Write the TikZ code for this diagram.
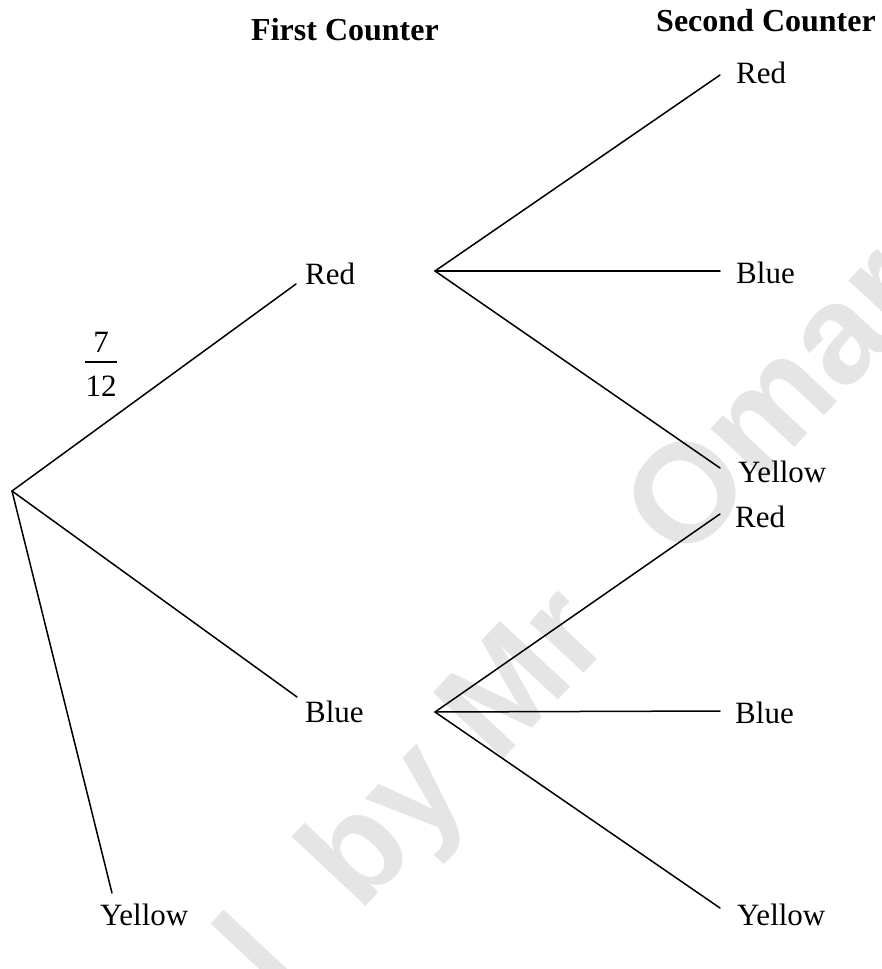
\documentclass[tikz,border=0pt]{standalone}
\usepackage{fontspec}
\setmainfont{Liberation Serif}
\newfontfamily\wmfont{Liberation Sans}
\begin{document}
\begin{tikzpicture}[x=1pt,y=-1pt,
  lbl/.style={inner sep=0pt, anchor=base west, font=\fontsize{31}{36}\selectfont},
  num/.style={inner sep=0pt, anchor=base, font=\fontsize{31}{36}\selectfont},
  hdr/.style={inner sep=0pt, anchor=base, font=\fontsize{32}{38}\selectfont\bfseries},
  branch/.style={line width=1.5pt, line cap=round}]
\useasboundingbox (0,0) rectangle (882,969);
\fill[white] (0,0) rectangle (882,969);
% watermark
\begin{scope}
\clip (0,0) rectangle (882,969);
\node[rotate=47, anchor=base west, text=black!10, inner sep=0pt,
      font=\wmfont\bfseries\fontsize{140}{140}\selectfont] (wm) at (278,1001)
      {l\hspace{0.3em} by Mr\hspace{0.45em} Omar};
\end{scope}
% headers
\node[hdr] (h1) at (345,40) {First Counter};
\node[hdr] (h2) at (766,31) {Second Counter};
% root and forks
\coordinate (root) at (12,491);
\coordinate (fR) at (435,271);
\coordinate (fB) at (435,712);
% first-level labels
\node[lbl] (r1) at (305,284) {Red};
\node[lbl] (b1) at (305,722) {Blue};
\node[lbl] (y1) at (100,925) {Yellow};
% first-level ends
\coordinate (er1) at (296,284);
\coordinate (eb1) at (297,697);
\coordinate (ey1) at (112,893);
\draw[branch] (root) -- (er1);
\draw[branch] (root) -- (eb1);
\draw[branch] (root) -- (ey1);
% fraction 7/12
\node[num] (p7) at (101,352) {7};
\node[num] (p12) at (101,396) {12};
\coordinate (barL) at (85,362);
\coordinate (barR) at (117,362);
\draw[line width=1.4pt] (barL) -- (barR);
% second-level labels (after Red)
\node[lbl] (rr) at (736,83) {Red};
\node[lbl] (rb) at (736,283) {Blue};
\node[lbl] (ry) at (738,482) {Yellow};
\coordinate (err) at (720,75);
\coordinate (erb) at (720,271);
\coordinate (ery) at (720,468);
\draw[branch] (fR) -- (err);
\draw[branch] (fR) -- (erb);
\draw[branch] (fR) -- (ery);
% second-level labels (after Blue)
\node[lbl] (br) at (735,527) {Red};
\node[lbl] (bb) at (735,723) {Blue};
\node[lbl] (by) at (737,925) {Yellow};
\coordinate (ebr) at (720,514);
\coordinate (ebb) at (720,711);
\coordinate (eby) at (720,908);
\draw[branch] (fB) -- (ebr);
\draw[branch] (fB) -- (ebb);
\draw[branch] (fB) -- (eby);
\end{tikzpicture}
\end{document}
